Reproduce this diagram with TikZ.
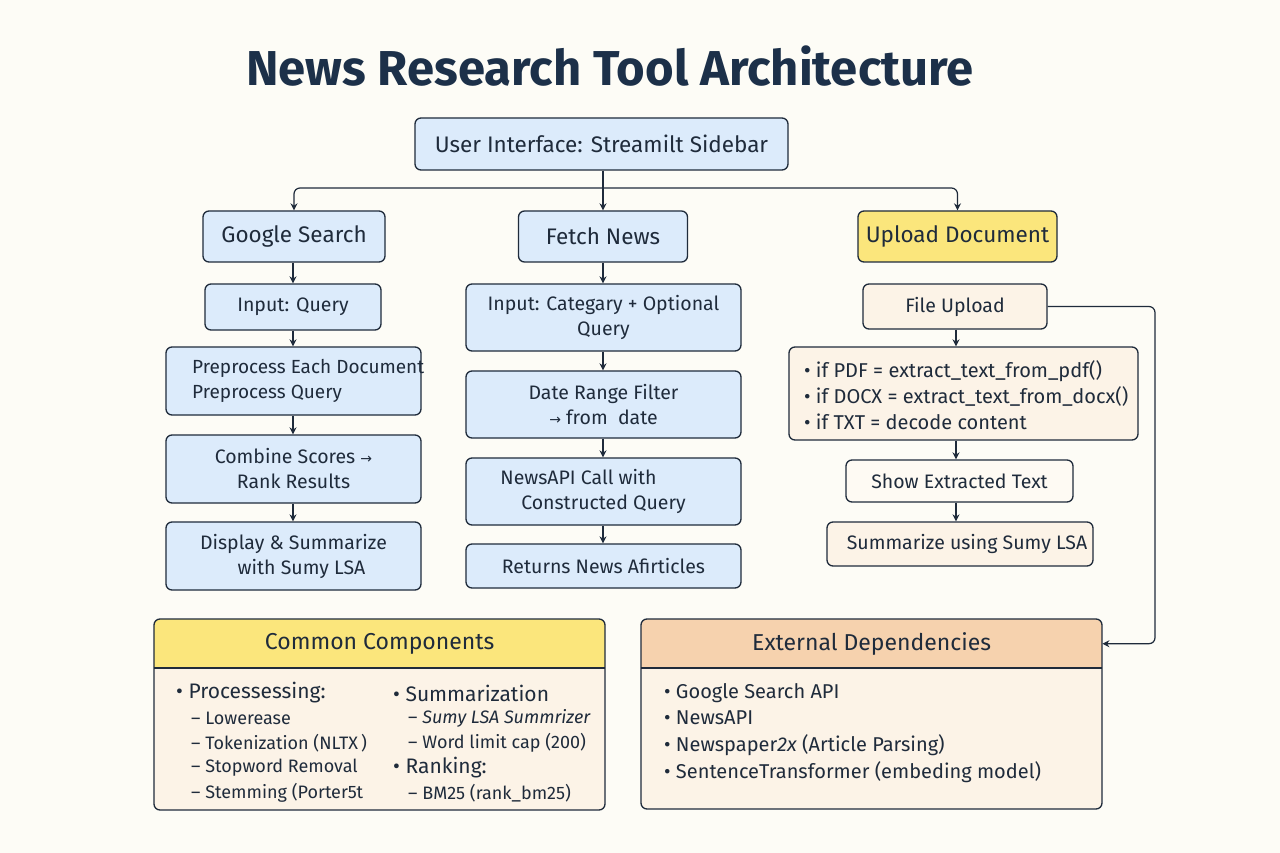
\documentclass[tikz,border=0pt]{standalone}
\usepackage{fontspec}
\setmainfont{Fira Sans}
\newfontfamily\symfont{DejaVu Sans}
\usetikzlibrary{arrows.meta}
\definecolor{bg}{HTML}{FDFCF6}
\definecolor{ink}{HTML}{1F2B3B}
\definecolor{bluef}{HTML}{DCEBFB}
\definecolor{yel}{HTML}{FBE67C}
\definecolor{peach}{HTML}{F6D2AE}
\definecolor{cream}{HTML}{FCF3E7}
\definecolor{lcream}{HTML}{FEFAF3}
\definecolor{titlec}{HTML}{1C3049}
\newcommand{\rarr}{{\symfont\fontsize{14}{14}\selectfont →}}
\begin{document}
\begin{tikzpicture}[x=1pt,y=-1pt,
  box/.style={draw=ink, line width=1.3pt, rounded corners=6pt, inner sep=0pt, align=center, text=ink},
  bb/.style={box, fill=bluef},
  cb/.style={box, fill=cream},
  big/.style={font=\fontsize{22.5}{27}\selectfont},
  mid/.style={font=\fontsize{19.5}{25}\selectfont},
  arr/.style={-{Stealth[length=7pt,width=7pt]}, draw=ink, line width=1.2pt},
  item/.style={anchor=west, inner sep=0pt, text=ink, font=\fontsize{20}{25}\selectfont},
  sub/.style={anchor=west, inner sep=0pt, text=ink, font=\fontsize{18}{25}\selectfont},
  head/.style={minimum height=49, anchor=north west, inner sep=0pt, text=ink, font=\fontsize{23}{27}\selectfont}
]
\fill[bg] (0,0) rectangle (1280,853);
\useasboundingbox (0,0) rectangle (1280,853);

% title
\node[text=titlec, font=\fontsize{49}{54}\selectfont\bfseries] (title) at (610,66) {News Research Tool Architecture};

% top
\node[bb, big, minimum width=373, minimum height=52] (ui) at (601.5,144) {User Interface: Streamilt Sidebar};
\node[bb, big, minimum width=182, minimum height=51] (gs) at (294,236.5) {Google Search};
\node[bb, big, minimum width=169, minimum height=51] (fn) at (603,236.5) {Fetch News};
\node[box, fill=yel, big, minimum width=199, minimum height=51] (ud) at (957.5,236.5) {Upload Document};

\coordinate (bar) at (603,188);
\draw[arr] (ui.south -| fn.north) -- (fn.north);
\draw[arr, rounded corners=6pt] (bar) -| (gs.north);
\draw[arr, rounded corners=6pt] (bar) -| (ud.north);

% left column
\node[bb, mid, minimum width=176, minimum height=46] (iq) at (293,307) {Input: Query};
\node[bb, minimum width=255, minimum height=68] (pp) at (293.5,381) {};
\node[item, align=left, font=\fontsize{19}{25}\selectfont] (ppt) at (192,381) {Preprocess Each Document\\Preprocess Query};
\node[bb, mid, minimum width=255, minimum height=68] (cs) at (293.5,469) {Combine Scores \rarr\\Rank Results};
\node[bb, mid, minimum width=255, minimum height=68] (ds) at (293.5,556) {Display \& Summarize\\\hspace*{16pt}with Sumy LSA};
\draw[arr] (gs.south -| iq.north) -- (iq.north);
\draw[arr] (iq.south) -- (iq.south |- pp.north);
\draw[arr] (pp.south -| iq.south) -- (cs.north -| iq.south);
\draw[arr] (cs.south -| iq.south) -- (ds.north -| iq.south);

% middle column
\node[bb, mid, minimum width=275, minimum height=67] (ic) at (603.5,317.5) {Input: Categary + Optional\\Query};
\node[bb, mid, minimum width=275, minimum height=67] (dr) at (603.5,404.5) {Date Range Filter\\\rarr\ from\ \ date};
\node[bb, mid, minimum width=275, minimum height=67] (na) at (603.5,491.5) {NewsAPI Call with\hspace*{50pt}\\Constructed Query};
\node[bb, mid, minimum width=275, minimum height=44] (rn) at (603.5,566) {Returns News Afirticles};
\draw[arr] (fn.south) -- (fn.south |- ic.north);
\draw[arr] (ic.south -| fn.south) -- (dr.north -| fn.south);
\draw[arr] (dr.south -| fn.south) -- (na.north -| fn.south);
\draw[arr] (na.south -| fn.south) -- (rn.north -| fn.south);

% right column
\node[cb, mid, minimum width=184, minimum height=45] (fu) at (955,306.5) {File Upload};
\node[cb, minimum width=349, minimum height=93] (ex) at (963.5,393.5) {};
\node[item, align=left, font=\fontsize{20}{26}\selectfont] (ext) at (804,395) {• if PDF = extract\_text\_from\_pdf()\\• if DOCX = extract\_text\_from\_docx()\\• if TXT = decode content};
\node[box, fill=lcream, mid, minimum width=227, minimum height=42] (st) at (959.5,481) {Show Extracted Text};
\node[cb, mid, minimum width=266, minimum height=44] (sl) at (960,544) {\hspace*{14pt}Summarize using Sumy LSA};
\draw[arr] (fu.south -| 956,0) -- (ex.north -| 956,0);
\draw[arr] (ex.south -| 956,0) -- (st.north -| 956,0);
\draw[arr] (st.south -| 956,0) -- (sl.north -| 956,0);

% Common Components
\begin{scope}
\clip[rounded corners=6pt] (154,619) rectangle (605,810);
\fill[cream] (154,619) rectangle (605,810);
\node[head, fill=yel, minimum width=451] (cchead) at (154,619) {Common Components};
\end{scope}
\draw[ink, line width=1.3pt, rounded corners=6pt] (154,619) rectangle (605,810);
\draw[ink, line width=1.3pt] (154,668) -- (605,668);
\node[item, font=\fontsize{21}{25}\selectfont] (c1) at (176,693) {• Processessing:};
\node[sub] (c2) at (191,718) {– Lowerease};
\node[sub] (c3) at (191,743) {– Tokenization (NLTX\,)};
\node[sub] (c4) at (191,768) {– Stopword Removal};
\node[sub] (c5) at (191,793) {– Stemming (Porter5t};
\node[item, font=\fontsize{21}{25}\selectfont] (c6) at (393,693) {• Summarization};
\node[sub] (c7) at (408,718) {– \textit{Sumy LSA Summrizer}};
\node[sub] (c8) at (408,743) {– Word limit cap (200)};
\node[item, font=\fontsize{21}{25}\selectfont] (c9) at (393,768) {• Ranking:};
\node[sub] (c10) at (408,793) {– BM25 (rank\_bm25)};

% External Dependencies
\begin{scope}
\clip[rounded corners=6pt] (641,619) rectangle (1102,809);
\fill[cream] (641,619) rectangle (1102,809);
\node[head, fill=peach, minimum width=461] (exthead) at (641,619) {External Dependencies};
\end{scope}
\draw[ink, line width=1.3pt, rounded corners=6pt] (641,619) rectangle (1102,809);
\draw[ink, line width=1.3pt] (641,668) -- (1102,668);
\node[item] (e1) at (664,693) {• Google Search API};
\node[item] (e2) at (664,718) {• NewsAPI};
\node[item] (e3) at (664,745) {• Newspaper\textit{2x} (Article Parsing)};
\node[item] (e4) at (664,772) {• SentenceTransformer (embeding model)};

\coordinate (turn) at (1155,306.5);
\draw[arr, rounded corners=6pt] (fu.east) -- (turn) |- (exthead.east);
\end{tikzpicture}
\end{document}
